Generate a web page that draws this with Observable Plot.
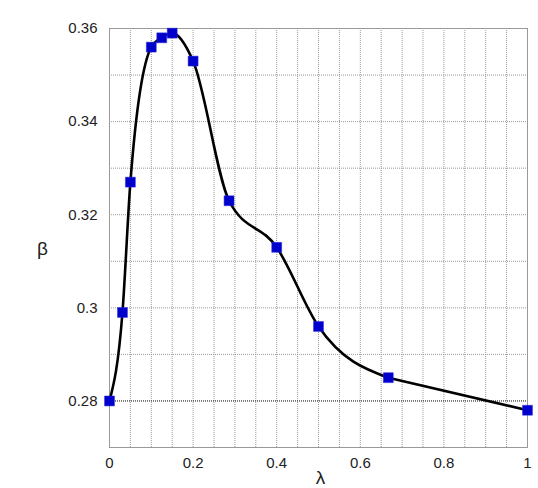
<!DOCTYPE html>
<html>
<head>
<meta charset="utf-8">
<script src="https://cdn.jsdelivr.net/npm/d3@7"></script>
<script src="https://cdn.jsdelivr.net/npm/@observablehq/plot@0.6"></script>
<style>
  html, body { margin: 0; padding: 0; background: #fff; }
  #chart { width: 538px; height: 488px; }
</style>
</head>
<body>
<div id="chart"></div>
<script>
// Data
const lambda = [0, 0.031, 0.05, 0.1, 0.125, 0.15, 0.2, 0.286, 0.4, 0.5, 0.667, 1];
const beta   = [0.280, 0.299, 0.327, 0.356, 0.358, 0.359, 0.353, 0.323, 0.313, 0.296, 0.285, 0.278];

const xTicks = [0, 0.2, 0.4, 0.6, 0.8, 1];
const yTicks = [0.28, 0.30, 0.32, 0.34, 0.36];
const xGrid = [0.05, 0.1, 0.15, 0.2, 0.25, 0.3, 0.35, 0.4, 0.45, 0.5, 0.55, 0.6, 0.65, 0.7, 0.75, 0.8, 0.85, 0.9, 0.95];
const yGrid = [0.28, 0.29, 0.30, 0.31, 0.32, 0.33, 0.34, 0.35];

const pts = lambda.map((x, i) => ({x, y: beta[i]}));
const head = pts.slice(0, -1);   // smooth part
const tail = pts.slice(-2);      // straight final segment
const fmt = d => String(+d.toFixed(2));

const chart = Plot.plot({
  width: 538,
  height: 488,
  marginLeft: 109,
  marginRight: 11,
  marginTop: 28,
  marginBottom: 41,
  style: {fontFamily: "'Liberation Sans', Arial, sans-serif", fontSize: "15px", color: "#222", background: "#fff"},
  x: {domain: [0, 1]},
  y: {domain: [0.27, 0.36]},
  marks: [
    Plot.ruleX(xGrid, {stroke: "#9a9a9a", strokeDasharray: "1,1", strokeWidth: 1}),
    Plot.ruleY(yGrid, {stroke: "#9a9a9a", strokeDasharray: "1,1", strokeWidth: 1}),
    Plot.ruleY([0.28], {stroke: "#333", strokeDasharray: "1,1", strokeWidth: 1}),
    Plot.frame({stroke: "#999"}),
    Plot.axisX(xTicks, {tickSize: 0, tickPadding: 10, tickFormat: fmt, fontSize: 15, label: null}),
    Plot.axisY(yTicks, {tickSize: 0, tickPadding: 12, tickFormat: fmt, fontSize: 15, label: null}),
    Plot.line(head, {x: "x", y: "y", curve: "monotone-x", stroke: "#000", strokeWidth: 2.6}),
    Plot.line(tail, {x: "x", y: "y", stroke: "#000", strokeWidth: 2.6}),
    Plot.dot(pts, {x: "x", y: "y", symbol: "square", r: 5.6, fill: "#0000cc", stroke: "#2a2ae0", strokeWidth: 0.5}),
    Plot.text(["λ"], {frameAnchor: "bottom", dx: 2, dy: 36, fontSize: 19}),
    Plot.text(["β"], {frameAnchor: "left", textAnchor: "middle", dx: -67, dy: 11, fontSize: 19})
  ]
});
document.getElementById("chart").appendChild(chart);
</script>
</body>
</html>
